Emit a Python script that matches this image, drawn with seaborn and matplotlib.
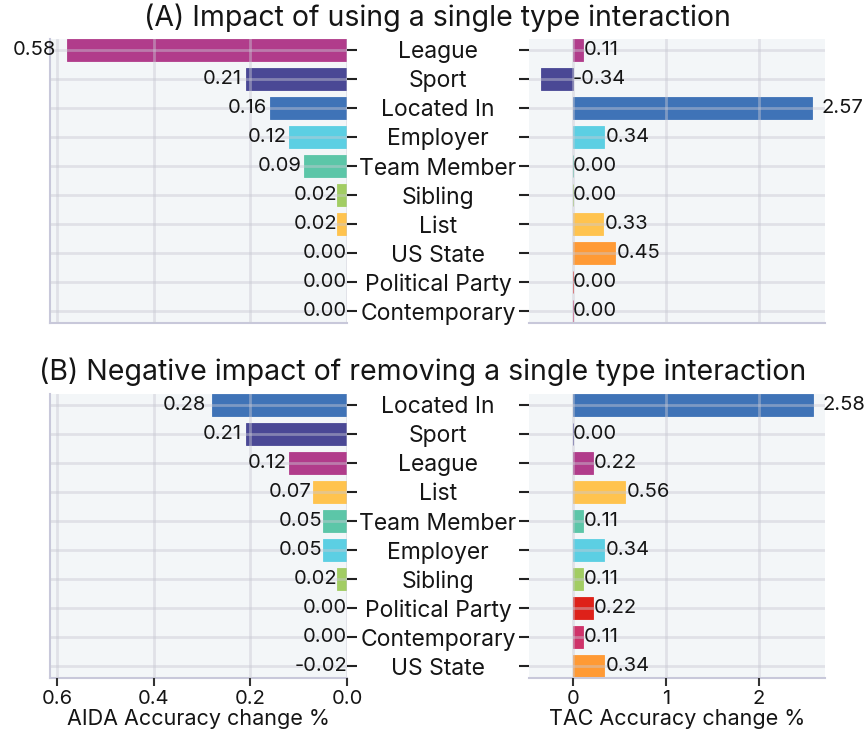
import matplotlib
matplotlib.use("Agg")
import matplotlib.pyplot as plt
import seaborn as sns
import pandas as pd

## data
order_a = ["League", "Sport", "Located In", "Employer", "Team Member",
           "Sibling", "List", "US State", "Political Party", "Contemporary"]
aida_a = [0.58, 0.21, 0.16, 0.12, 0.09, 0.02, 0.02, 0.00, 0.00, 0.00]
tac_a = [0.11, -0.34, 2.57, 0.34, 0.00, 0.00, 0.33, 0.45, 0.00, 0.00]

order_b = ["Located In", "Sport", "League", "List", "Team Member",
           "Employer", "Sibling", "Political Party", "Contemporary", "US State"]
aida_b = [0.28, 0.21, 0.12, 0.07, 0.05, 0.05, 0.02, 0.00, 0.00, -0.02]
tac_b = [2.58, 0.00, 0.22, 0.56, 0.11, 0.34, 0.11, 0.22, 0.11, 0.34]

titles = ["(A) Impact of using a single type interaction",
          "(B) Negative impact of removing a single type interaction"]

palette = {
    "League": "#b13c8b",
    "Sport": "#4a4895",
    "Located In": "#3f73b7",
    "Employer": "#5ccfe3",
    "Team Member": "#5cc6a8",
    "Sibling": "#a2cd63",
    "List": "#ffc34e",
    "US State": "#ff9a35",
    "Political Party": "#de2119",
    "Contemporary": "#cf336a",
}

sns.set_theme(style="white")
plt.rcParams['font.family'] = ['Inter', 'DejaVu Sans']

W, H = 865, 733
fig = plt.figure(figsize=(W / 100, H / 100), dpi=100)

def px_axes(x0, y0, x1, y1):
    return fig.add_axes([x0 / W, 1 - y1 / H, (x1 - x0) / W, (y1 - y0) / H])

bg = "#f3f6f8"
grid_c = "#c9c9d3"
spine_c = "#c8c8da"
txt_c = "#151515"

rows = [
    (order_a, aida_a, tac_a, 39, 323, 18, 437),
    (order_b, aida_b, tac_b, 394, 678, 372, 423),
]

for r, (order, aida, tac, top, bot, ty, tx) in enumerate(rows):
    axl = px_axes(50, top, 347, bot)
    axr = px_axes(529, top, 825, bot)
    df_l = pd.DataFrame({"cat": order, "val": aida})
    df_r = pd.DataFrame({"cat": order, "val": tac})

    for ax, df, xlim, ticks in [(axl, df_l, (0.615, 0.0), [0.6, 0.4, 0.2, 0.0]),
                                (axr, df_r, (-0.47, 2.71), [0, 1, 2])]:
        sns.barplot(data=df, x="val", y="cat", hue="cat", order=order,
                    palette=palette, orient="h", width=0.75, saturation=1,
                    legend=False, ax=ax)
        for p in ax.patches:
            p.set_edgecolor(p.get_facecolor())
            p.set_linewidth(0.6)
        ax.set_facecolor(bg)
        ax.set_xlim(*xlim)
        ax.set_ylim(9.4, -0.37)
        ax.set_xticks(ticks)
        ax.set_axisbelow(False)
        ax.grid(True, color=grid_c, alpha=0.45, linewidth=2)
        ax.set_xlabel("")
        ax.set_ylabel("")
        for s in ax.spines.values():
            s.set_visible(False)
        ax.spines["bottom"].set_visible(True)
        ax.spines["bottom"].set_color(spine_c)
        ax.spines["bottom"].set_linewidth(1.5)
        if r == 0:
            ax.tick_params(axis="x", bottom=False, labelbottom=False)
        else:
            ax.tick_params(axis="x", bottom=True, length=6, width=1.5,
                           color="#333333", labelsize=14.5, labelcolor=txt_c, pad=3)
            ax.set_xticklabels([f"{t:.1f}" if ax is axl else f"{t}" for t in ticks])

    # value labels
    for i, v in enumerate(aida):
        axl.text(max(v, 0) * 1.04, i, f"{v:.2f}", ha="right", va="center",
                 fontsize=14.5, color=txt_c, clip_on=False)
    for i, v in enumerate(tac):
        axr.text(max(v, 0) * 1.04, i, f"{v:.2f}", ha="left", va="center",
                 fontsize=14.5, color=txt_c, clip_on=False)

    axl.spines["left"].set_visible(True)
    axl.spines["left"].set_color(spine_c)
    axl.spines["left"].set_linewidth(1.5)
    axl.yaxis.tick_right()
    axl.tick_params(axis="y", right=True, left=False, labelright=False,
                    labelleft=False, length=7.5, width=1.5, color="#222222")
    axr.tick_params(axis="y", left=True, length=7.5, width=1.5, color="#222222",
                    labelsize=16.5, labelcolor=txt_c, pad=58)
    for lab in axr.get_yticklabels():
        lab.set_ha("center")

    fig.text(tx / W, 1 - ty / H, titles[r], ha="center",
             va="center", fontsize=20.5, color=txt_c)

fig.text(198 / W, 1 - 719 / H, "AIDA Accuracy change %", ha="center",
         va="center", fontsize=15.5, color=txt_c)
fig.text(677 / W, 1 - 719 / H, "TAC Accuracy change %", ha="center",
         va="center", fontsize=15.5, color=txt_c)

fig.savefig("out.png", dpi=100, facecolor="white")
